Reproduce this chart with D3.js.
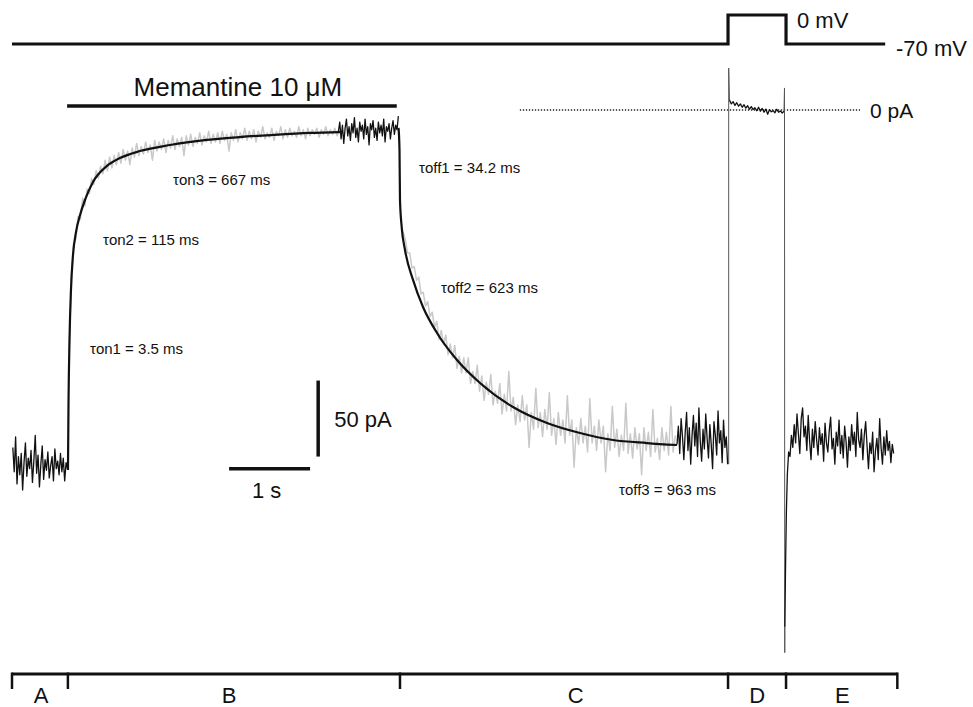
<!DOCTYPE html>
<html>
<head>
<meta charset="utf-8">
<script src="https://cdn.jsdelivr.net/npm/d3@7"></script>
<style>
  html, body { margin: 0; padding: 0; background: #fff; }
  svg { display: block; }
  text { font-family: "Liberation Sans", Arial, Helvetica, sans-serif; fill: #111; }
</style>
</head>
<body>
<svg id="chart" width="973" height="707"></svg>
<script>
// ---------------- DATA ----------------
// Voltage protocol (mV)
const vTimes  = [0, 8.84, 8.84, 9.556, 9.556, 10.78];
const vValues = [-70, -70, 0, 0, -70, -70];

// Phase segments and labels (s)
const segBounds = [0, 0.69, 4.79, 8.84, 9.556, 10.93];
const segLabels = ["A", "B", "C", "D", "E"];
const segLabelTimes = [0.36, 2.68, 6.96, 9.2, 10.25];

// Memantine application (s)
const memantineSpan = [0.68, 4.75];

// Raw current traces (pA), each spread evenly over its time span (s)
const spanA = [0.01, 0.685];
const rawA = [-222,-238,-215,-246,-228,-240,-226,-250,-232,-219,-241,-229,-236,-224,-245,-231,-214,-239,-227,-248,
              -233,-221,-243,-230,-237,-225,-242,-234,-228,-244,-223,-236,-231,-240,-226,-238,-229,-244,-232,-236];

const spanBgray = [0.705, 4.041];
const rawBgray = [-160,-110,-88,-85,-70,-72,-58,-63,-52,-55,-45,-49,-40,-45,-37,-42,-33,-40,-31,-38,
                  -30,-36,-28,-35,-26,-33,-27,-36,-25,-31,-22,-30,-24,-29,-21,-28,-23,-33,-20,-27,
                  -21,-26,-19,-28,-20,-25,-17,-26,-19,-24,-18,-30,-17,-23,-16,-24,-18,-22,-15,-23,
                  -17,-21,-14,-22,-16,-21,-15,-22,-14,-20,-16,-27,-15,-20,-13,-21,-15,-19,-12,-20,
                  -14,-19,-13,-21,-14,-18,-11,-19,-15,-18,-12,-20,-14,-17,-11,-19,-13,-18,-12,-17,
                  -14,-18,-11,-17,-13,-19,-12,-17,-13,-16,-12,-18,-13,-16,-11,-17,-13,-16,-12,-17,-13];

const spanBtail = [4.03, 4.77];
const rawBtail = [-14,-8,-19,-10,-22,-12,-6,-17,-11,-20,-9,-15,-5,-18,-12,-21,-8,-14,-10,-19,-6,-16,-11,-23,
                  -9,-13,-7,-18,-12,-20,-8,-15,-10,-17,-6,-21,-11,-14,-9,-19,-12,-7,-16,-10,-13,-4];

const spanCgray = [4.827, 8.19];
const rawCgray = [-80,-85,-94,-94,-104,-103,-112,-110,-121,-120,-129,-126,-136,-133,-143,-139,-151,-145,-154,-148,
                  -161,-154,-163,-155,-170,-162,-173,-163,-173,-163,-180,-172,-180,-168,-185,-175,-191,-179,-187,-174,
                  -194,-185,-193,-180,-200,-187,-198,-172,-198,-189,-207,-194,-205,-188,-204,-194,-222,-199,-210,-183,
                  -209,-199,-215,-197,-210,-186,-214,-203,-220,-199,-214,-204,-219,-188,-214,-204,-235,-209,-220,-203,
                  -219,-208,-225,-190,-219,-208,-224,-204,-219,-208,-238,-213,-224,-195,-222,-210,-228,-214,-224,-193,
                  -226,-213,-229,-209,-223,-213,-240,-209,-224,-212,-228,-197,-225,-216,-230,-209,-224,-212,-227,-195,
                  -225,-214];

const spanCtail = [8.21, 8.835];
const rawCtail = [-220,-208,-226,-203,-215,-230,-212,-199,-224,-209,-233,-214,-201,-221,-206,-228,-196,-218,-231,-210,
                  -223,-200,-216,-229,-207,-220,-236,-205,-214,-227,-198,-219,-211,-232,-204,-222,-215,-233];

const spanD = [8.858, 9.531];
const rawD = [6.5,4,5.5,3,4.8,2.5,4,1.8,3.5,1.2,2.8,0.5,2.2,0.3,1.5,-0.5,1.8,-0.8,1,-1.5,0.6,-2.8,0.2,-1.2,-0.4,-1.8,0.5,-1.5,-0.6,-2,-0.8];

const spanE = [9.605, 10.885];
const rawE = [-228,-214,-222,-207,-219,-200,-213,-226,-203,-196,-215,-208,-224,-201,-218,-230,-210,-222,-205,-217,
              -227,-209,-220,-213,-231,-206,-219,-225,-211,-202,-223,-216,-233,-212,-221,-204,-226,-214,-229,-208,
              -218,-235,-215,-224,-207,-220,-212,-228,-199,-217,-222,-210,-230,-214,-205,-221,-236,-219,-226,-212,
              -238,-224,-216,-230,-203,-222,-233,-215,-227,-211,-224,-218,-232,-220,-226];

// Recovery of the tail current at the start of E
const recET = [9.541, 9.55, 9.56, 9.572, 9.588, 9.605];
const recEI = [-340, -300, -265, -240, -225, -228];

// Capacitive transients (thin lines)
const transOnT  = [8.848, 8.848, 8.858];
const transOnI  = [-233, 27.6, 6.5];
const transOffT = [9.531, 9.537, 9.540, 9.541];
const transOffI = [-0.8, 14.5, -357, -340];

// Exponential fits (pA)
const fitOnT = [0.691,0.698,0.710,0.728,0.753,0.790,0.840,0.901,1.000,1.173,1.333,1.580,1.951,2.407,2.815,3.222,3.679,4.049];
const fitOnI = [-236.8,-190.8,-151.3,-118.4,-95.4,-80.3,-69.1,-59.2,-47.4,-36.8,-31.6,-27.0,-23.0,-19.7,-17.8,-16.4,-15.1,-14.5];
const fitOffT = [4.772,4.784,4.790,4.811,4.852,4.951,5.074,5.247,5.494,5.778,6.185,6.605,7.012,7.420,7.840,8.210];
const fitOffI = [-11.8,-26.3,-59.2,-77,-92.1,-111.8,-129.6,-146.7,-164.5,-179.6,-195.4,-205.9,-212.5,-217.1,-219.1,-220.4];

// Zero-current reference (s)
const zeroLineSpan = [6.27, 10.47];

// Time constants (label, time position s, current position pA)
const tauLabels = ["τon1 = 3.5 ms", "τon2 = 115 ms", "τon3 = 667 ms", "τoff1 = 34.2 ms", "τoff2 = 623 ms", "τoff3 = 963 ms"];
const tauT = [0.963, 1.123, 1.988, 5.025, 5.296, 7.494];
const tauI = [-160.5, -88.8, -49.3, -41.4, -120.4, -253.3];

// Scale bars
const scaleTimeBar = [2.68, 3.68];        // 1 s
const scaleTimeBarI = -236;
const scaleCurBar = [-178, -228];         // 50 pA
const scaleCurBarT = 3.78;

// ---------------- SCALES ----------------
const svg = d3.select("#chart");
svg.append("rect").attr("width", 973).attr("height", 707).attr("fill", "#fff");

const x = d3.scaleLinear().domain([0, 1]).range([12, 93]);        // 81 px per s
const y = d3.scaleLinear().domain([0, -50]).range([110, 186]);     // 76 px per 50 pA
const yv = d3.scaleLinear().domain([-70, 0]).range([44, 15]);

const spread = (span, vals) => vals.map((v, i) => [span[0] + i * (span[1] - span[0]) / (vals.length - 1), v]);
const zip = (ts, vs) => ts.map((t, i) => [t, vs[i]]);

const line = d3.line().x(d => x(d[0])).y(d => y(d[1]));
const smooth = d3.line().x(d => x(d[0])).y(d => y(d[1])).curve(d3.curveMonotoneX);

// ---------------- VOLTAGE ----------------
svg.append("path")
  .attr("d", d3.line().x(d => x(d[0])).y(d => yv(d[1]))(zip(vTimes, vValues)))
  .attr("fill", "none").attr("stroke", "#111").attr("stroke-width", 3.2);
svg.append("text").attr("x", 797).attr("y", 28).attr("font-size", 22).text("0 mV");
svg.append("text").attr("x", 896).attr("y", 56).attr("font-size", 22).text("-70 mV");

// ---------------- ZERO LINE ----------------
svg.append("line")
  .attr("x1", x(zeroLineSpan[0])).attr("x2", x(zeroLineSpan[1]))
  .attr("y1", y(0)).attr("y2", y(0))
  .attr("stroke", "#222").attr("stroke-width", 1.6).attr("stroke-dasharray", "1.3,1.7");
svg.append("text").attr("x", 870).attr("y", y(0) + 8).attr("font-size", 21).text("0 pA");

// ---------------- MEMANTINE BAR ----------------
svg.append("line")
  .attr("x1", x(memantineSpan[0])).attr("x2", x(memantineSpan[1]))
  .attr("y1", 106).attr("y2", 106)
  .attr("stroke", "#111").attr("stroke-width", 3.5);
svg.append("text").attr("x", (x(memantineSpan[0]) + x(memantineSpan[1])) / 2 + 6).attr("y", 96)
  .attr("text-anchor", "middle").attr("font-size", 26).text("Memantine 10 μM");

// ---------------- TRACES ----------------
const gray = "#c9c9c9";
svg.append("path").attr("d", line(spread(spanBgray, rawBgray)))
  .attr("fill", "none").attr("stroke", gray).attr("stroke-width", 1.5).attr("stroke-linejoin", "round");
svg.append("path").attr("d", line(spread(spanCgray, rawCgray)))
  .attr("fill", "none").attr("stroke", gray).attr("stroke-width", 1.5).attr("stroke-linejoin", "round");

// thin transients
[[transOnT, transOnI], [transOffT, transOffI]].forEach(([ts, is]) => {
  svg.append("path").attr("d", line(zip(ts, is)))
    .attr("fill", "none").attr("stroke", "#555").attr("stroke-width", 1);
});

// fits
svg.append("path").attr("d", smooth(zip(fitOnT, fitOnI)))
  .attr("fill", "none").attr("stroke", "#111").attr("stroke-width", 2.2);
svg.append("path").attr("d", smooth(zip(fitOffT, fitOffI)))
  .attr("fill", "none").attr("stroke", "#111").attr("stroke-width", 2.2);

// black raw segments
const blackSegs = [
  spread(spanA, rawA),
  spread(spanBtail, rawBtail),
  spread(spanCtail, rawCtail),
  spread(spanD, rawD),
  zip(recET, recEI).concat(spread(spanE, rawE))
];
blackSegs.forEach(seg => {
  svg.append("path").attr("d", line(seg))
    .attr("fill", "none").attr("stroke", "#111").attr("stroke-width", 1.3).attr("stroke-linejoin", "round");
});

// ---------------- TAU LABELS ----------------
tauLabels.forEach((lab, i) => {
  svg.append("text").attr("x", x(tauT[i])).attr("y", y(tauI[i]))
    .attr("font-size", 15).text(lab);
});

// ---------------- SCALE BARS ----------------
svg.append("line")
  .attr("x1", x(scaleTimeBar[0])).attr("x2", x(scaleTimeBar[1]))
  .attr("y1", y(scaleTimeBarI)).attr("y2", y(scaleTimeBarI))
  .attr("stroke", "#111").attr("stroke-width", 3.5);
svg.append("text").attr("x", (x(scaleTimeBar[0]) + x(scaleTimeBar[1])) / 2 - 3).attr("y", y(scaleTimeBarI) + 29)
  .attr("text-anchor", "middle").attr("font-size", 22).text("1 s");
svg.append("line")
  .attr("x1", x(scaleCurBarT)).attr("x2", x(scaleCurBarT))
  .attr("y1", y(scaleCurBar[0])).attr("y2", y(scaleCurBar[1]))
  .attr("stroke", "#111").attr("stroke-width", 3.5);
svg.append("text").attr("x", x(scaleCurBarT) + 16).attr("y", y((scaleCurBar[0] + scaleCurBar[1]) / 2) + 8)
  .attr("font-size", 22).text("50 pA");

// ---------------- PHASE BAR ----------------
const barY = 674;
svg.append("line")
  .attr("x1", x(segBounds[0])).attr("x2", x(segBounds[segBounds.length - 1]))
  .attr("y1", barY).attr("y2", barY)
  .attr("stroke", "#111").attr("stroke-width", 3);
segBounds.forEach(t => {
  svg.append("line").attr("x1", x(t)).attr("x2", x(t))
    .attr("y1", barY - 1.5).attr("y2", barY + 15)
    .attr("stroke", "#111").attr("stroke-width", 2.5);
});
segLabels.forEach((lab, i) => {
  svg.append("text").attr("x", x(segLabelTimes[i])).attr("y", 703)
    .attr("text-anchor", "middle").attr("font-size", 22).text(lab);
});
</script>
</body>
</html>
